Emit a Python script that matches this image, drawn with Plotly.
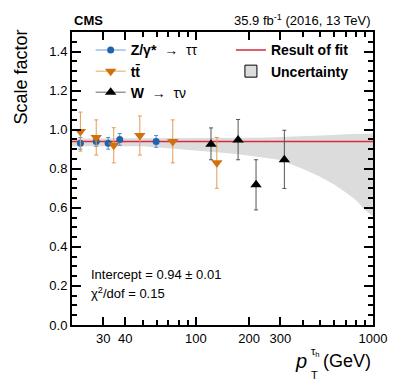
import plotly.graph_objects as go

# tau ID scale factors
# Z/gamma* -> tautau
z_pt = [22.3, 27.4, 32.0, 37.2, 59.7]
z_sf = [0.93, 0.94, 0.93, 0.95, 0.94]
z_err = [0.03, 0.025, 0.03, 0.03, 0.03]

# ttbar
tt_pt = [22.3, 27.4, 34.4, 48.3, 74.1, 131.4]
tt_sf = [0.99, 0.96, 0.92, 0.97, 0.94, 0.83]
tt_up = [0.10, 0.09, 0.09, 0.10, 0.11, 0.13]
tt_dn = [0.10, 0.09, 0.09, 0.10, 0.11, 0.13]

# W -> tau nu
w_pt = [121.8, 173.2, 218.7, 316.0]
w_sf = [0.925, 0.947, 0.718, 0.846]
w_up = [0.084, 0.105, 0.128, 0.151]
w_dn = [0.079, 0.101, 0.129, 0.147]

# fit result and uncertainty band
fit_value = 0.94
band_pt = [20, 50, 70, 100, 130, 170, 200, 250, 300, 400, 500, 600, 700, 800, 900, 1000]
band_up = [0.955, 0.955, 0.955, 0.955, 0.955, 0.957, 0.958, 0.96, 0.962, 0.966, 0.97, 0.973, 0.976, 0.978, 0.979, 0.98]
band_dn = [0.915, 0.915, 0.905, 0.895, 0.885, 0.875, 0.868, 0.855, 0.845, 0.80, 0.76, 0.72, 0.68, 0.64, 0.59, 0.555]

blue = '#1f63ad'
orange = '#d2700f'
red = '#d9283f'
band_grey = '#dcdcdc'
font = 'Liberation Sans, Arial, sans-serif'

fig = go.Figure()

# uncertainty band
fig.add_trace(go.Scatter(
    x=band_pt + band_pt[::-1],
    y=band_up + band_dn[::-1],
    fill='toself',
    fillcolor=band_grey,
    line=dict(width=0),
    mode='lines',
    showlegend=False,
    hoverinfo='skip',
))

# fit line
fig.add_trace(go.Scatter(
    x=[band_pt[0], band_pt[-1]],
    y=[fit_value, fit_value],
    mode='lines',
    line=dict(color=red, width=1.5),
    showlegend=False,
))

# data points
fig.add_trace(go.Scatter(
    x=z_pt, y=z_sf, mode='markers',
    marker=dict(symbol='circle', size=7, color=blue),
    error_y=dict(type='data', array=z_err, color='#4f8fd0', thickness=1, width=2),
    showlegend=False,
))
fig.add_trace(go.Scatter(
    x=tt_pt, y=tt_sf, mode='markers',
    marker=dict(symbol='triangle-down', size=10, color=orange),
    error_y=dict(type='data', symmetric=False, array=tt_up, arrayminus=tt_dn,
                 color='#e39a55', thickness=1, width=2),
    showlegend=False,
))
fig.add_trace(go.Scatter(
    x=w_pt, y=w_sf, mode='markers',
    marker=dict(symbol='triangle-up', size=10, color='black'),
    error_y=dict(type='data', symmetric=False, array=w_up, arrayminus=w_dn,
                 color='#555555', thickness=1, width=2),
    showlegend=False,
))

# legend entries
fig.add_trace(go.Scatter(
    x=[None], y=[None], mode='lines+markers',
    marker=dict(symbol='circle', size=7, color=blue),
    line=dict(color='#9cc0e6', width=1.5),
    name='<b>Z/γ*</b>  →  ττ', legend='legend',
))
fig.add_trace(go.Scatter(
    x=[None], y=[None], mode='lines+markers',
    marker=dict(symbol='triangle-down', size=10, color=orange),
    line=dict(color='#f0c49a', width=1.5),
    name='<b>tt̄</b>', legend='legend',
))
fig.add_trace(go.Scatter(
    x=[None], y=[None], mode='lines+markers',
    marker=dict(symbol='triangle-up', size=10, color='black'),
    line=dict(color='#999999', width=1.5),
    name='<b>W</b>  →  τν', legend='legend',
))
fig.add_trace(go.Scatter(
    x=[None], y=[None], mode='lines',
    line=dict(color=red, width=1.5),
    name='<b>Result of fit</b>', legend='legend2',
))
fig.add_trace(go.Bar(
    x=[None], y=[None],
    marker=dict(color=band_grey, line=dict(color='black', width=1)),
    name='<b>Uncertainty</b>', legend='legend2',
))

legend_style = dict(
    font=dict(family=font, size=14, color='black'),
    bgcolor='rgba(0,0,0,0)',
    borderwidth=0,
    xanchor='left', yanchor='top',
    tracegroupgap=0,
    itemwidth=30,
)

fig.update_layout(
    width=399, height=383,
    margin=dict(l=72, r=20, t=32, b=58),
    paper_bgcolor='white',
    plot_bgcolor='white',
    font=dict(family=font, size=13, color='black'),
    legend=dict(x=0.062, y=0.992, **legend_style),
    legend2=dict(x=0.528, y=0.992, **legend_style),
)

fig.update_xaxes(
    type='log',
    range=[1.30103, 3],
    tickvals=[30, 40, 100, 200, 300, 1000],
    ticktext=['30', '40', '100', '200', '300', '1000'],
    ticks='inside', ticklen=8, tickwidth=1.5, tickcolor='black',
    minor=dict(tickvals=[20, 50, 60, 70, 80, 90, 400, 500, 600, 700, 800, 900],
               ticks='inside', ticklen=5, tickwidth=1.5, tickcolor='black'),
    showline=True, linecolor='black', linewidth=2, mirror='allticks',
    showgrid=False, zeroline=False,
    tickfont=dict(size=13),
)
fig.update_yaxes(
    range=[0, 1.5],
    tickvals=[0, 0.2, 0.4, 0.6, 0.8, 1.0, 1.2, 1.4],
    ticktext=['0.0', '0.2', '0.4', '0.6', '0.8', '1.0', '1.2', '1.4'],
    ticks='inside', ticklen=9, tickwidth=1.5, tickcolor='black',
    minor=dict(dtick=0.05, ticks='inside', ticklen=5, tickwidth=1.5, tickcolor='black'),
    showline=True, linecolor='black', linewidth=2, mirror='allticks',
    showgrid=False, zeroline=False,
    tickfont=dict(size=13),
)

annotations = [
    dict(text='<b>CMS</b>', x=0, y=1.0, xanchor='left', yanchor='bottom',
         font=dict(size=13), yshift=2),
    dict(text='35.9 fb<sup>-1</sup> (2016, 13 TeV)', x=1, y=1.0, xanchor='right',
         yanchor='bottom', font=dict(size=13), yshift=2),
    dict(text='Scale factor', x=-0.169, y=1.014, xanchor='center', yanchor='top',
         textangle=-90, font=dict(size=18)),
    dict(text='Intercept = 0.94 ± 0.01', x=0.058, y=0.171, xanchor='left',
         yanchor='middle', font=dict(size=13)),
    dict(text='χ<sup>2</sup>/dof = 0.15', x=0.058, y=0.11, xanchor='left',
         yanchor='middle', font=dict(size=13)),
    # x axis title built from pieces so that the sub and superscript stack
    dict(text='(GeV)', x=1.0, y=-0.123, xanchor='right', yanchor='middle',
         font=dict(size=18)),
    dict(text='<i>p</i>', x=0.788, y=-0.123, xanchor='right', yanchor='middle',
         font=dict(size=20)),
    dict(text='T', x=0.786, y=-0.171, xanchor='left', yanchor='middle',
         font=dict(size=11)),
    dict(text='τ<sub>h</sub>', x=0.786, y=-0.092, xanchor='left', yanchor='middle',
         font=dict(size=11)),
]
for a in annotations:
    a['xref'] = 'paper'
    a['yref'] = 'paper'
    a['showarrow'] = False
    fig.add_annotation(**a)

fig.write_html('out.html', config={'displayModeBar': False},
               post_script="document.body.style.margin='0';")
